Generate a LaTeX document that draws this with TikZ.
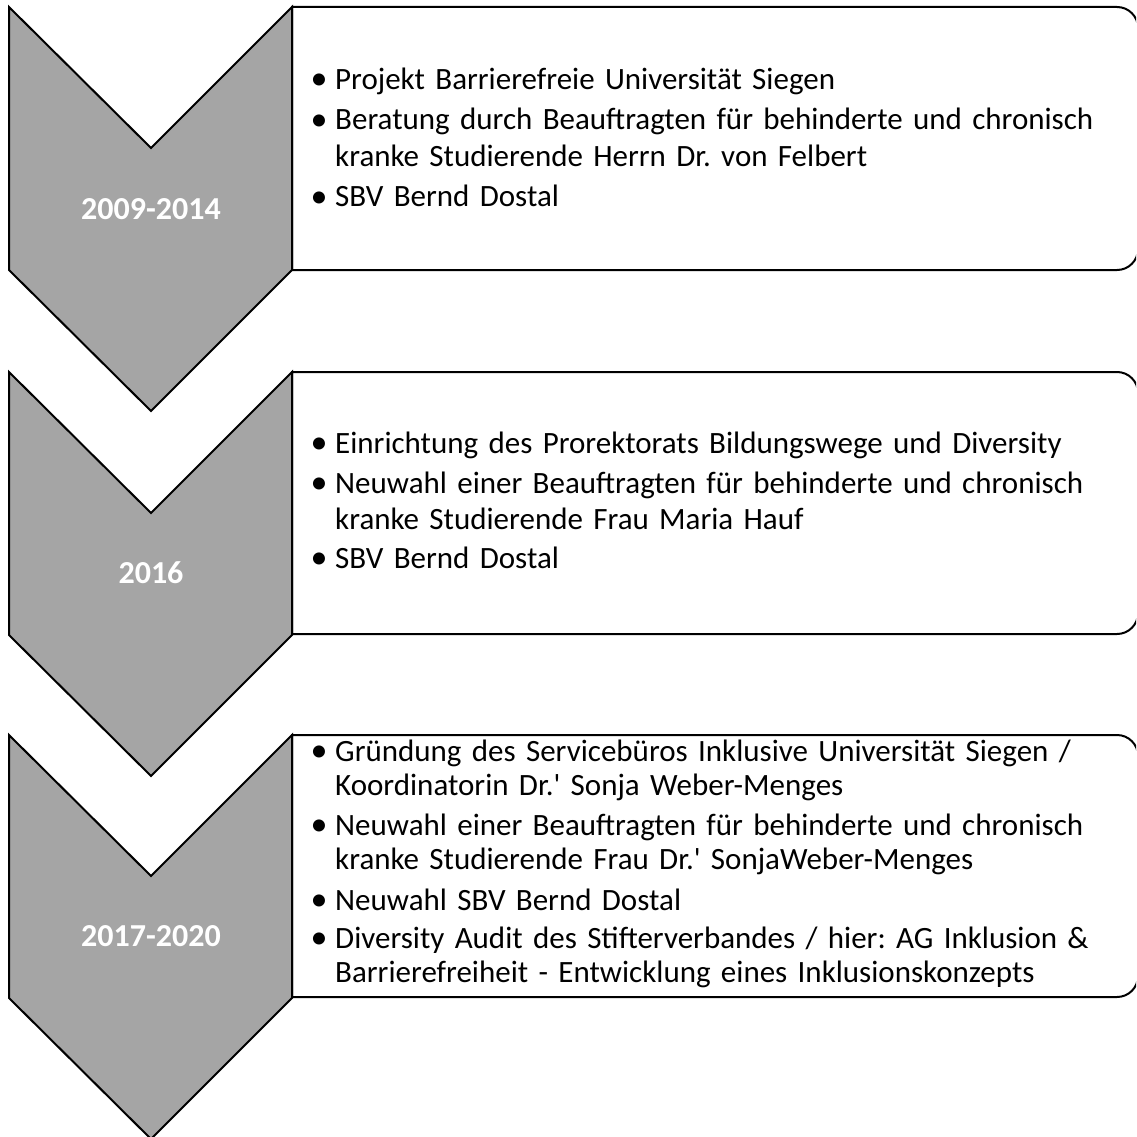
\documentclass[tikz,border=0pt]{standalone}
\usepackage{fontspec}
\newfontfamily\calibri{Carlito}
\definecolor{chevgray}{HTML}{A5A5A5}
\begin{document}
\begin{tikzpicture}[x=1pt,y=-1pt,
  chevron/.style={fill=chevgray,draw=black,line width=2pt,line join=miter},
  infobox/.style={fill=white,draw=black,line width=2pt},
  year/.style={text=white,font=\calibri\fontsize{32}{38}\selectfont\bfseries,inner sep=0pt},
  item/.style={anchor=base west,inner sep=0pt,text width=830pt,align=left},
  itemA/.style={item,font=\calibri\frenchspacing\fontsize{31}{36.5}\selectfont},
  itemB/.style={item,font=\calibri\frenchspacing\fontsize{31}{34.6}\selectfont}]
\useasboundingbox (0,0) rectangle (1136,1137);
\begin{scope}
\clip (0,0) rectangle (1136,1137);
% text panels with rounded right side
\foreach \t/\b in {7/270,372/634,735/997}{
  \draw[infobox] (292,\t) -- (1117,\t) arc[start angle=-90,end angle=0,radius=21]
    -- (1138,\b-21) arc[start angle=0,end angle=90,radius=21] -- (292,\b) -- cycle;
}
% chevrons
\foreach \t in {7,372,735}{
  \draw[chevron] (9,\t) -- (151,\t+141) -- (292,\t) -- (292,\t+263)
    -- (151,\t+404) -- (9,\t+263) -- cycle;
}
\end{scope}
% years
\node[year] (y1) at (151,209) {2009-2014};
\node[year] (y2) at (151,573) {2016};
\node[year] (y3) at (151,936) {2017-2020};
% bullet paragraph with hanging indent
\newcommand{\bitem}[1]{\hangindent=22pt\hangafter=1\noindent\makebox[22pt][l]{\hspace*{-2.5pt}\raisebox{-0.5pt}{\fontsize{34}{34}\selectfont •}}#1\par}
% box 1
\node[itemA] (a1) at (313,89.3) {\bitem{Projekt Barrierefreie Universität Siegen}};
\node[itemA] (a2) at (313,130) {\bitem{Beratung durch Beauftragten für behinderte und chronisch\newline kranke Studierende Herrn Dr. von Felbert}};
\node[itemA] (a3) at (313,206.7) {\bitem{SBV Bernd Dostal}};
% box 2
\node[itemA] (b1) at (313,453.3) {\bitem{Einrichtung des Prorektorats Bildungswege und Diversity}};
\node[itemA] (b2) at (313,493.3) {\bitem{Neuwahl einer Beauftragten für behinderte und chronisch\newline kranke Studierende Frau Maria Hauf}};
\node[itemA] (b3) at (313,568.3) {\bitem{SBV Bernd Dostal}};
% box 3
\node[itemB] (c1) at (313,761) {\bitem{Gründung des Servicebüros Inklusive Universität Siegen /\newline Koordinatorin Dr.' Sonja Weber-Menges}};
\node[itemB] (c2) at (313,835) {\bitem{Neuwahl einer Beauftragten für behinderte und chronisch\newline kranke Studierende Frau Dr.' SonjaWeber-Menges}};
\node[itemB] (c3) at (313,910) {\bitem{Neuwahl SBV Bernd Dostal}};
\node[itemB] (c4) at (313,948) {\bitem{Diversity Audit des Stifterverbandes / hier: AG Inklusion \&\newline Barrierefreiheit - Entwicklung eines Inklusionskonzepts}};
\end{tikzpicture}
\end{document}
